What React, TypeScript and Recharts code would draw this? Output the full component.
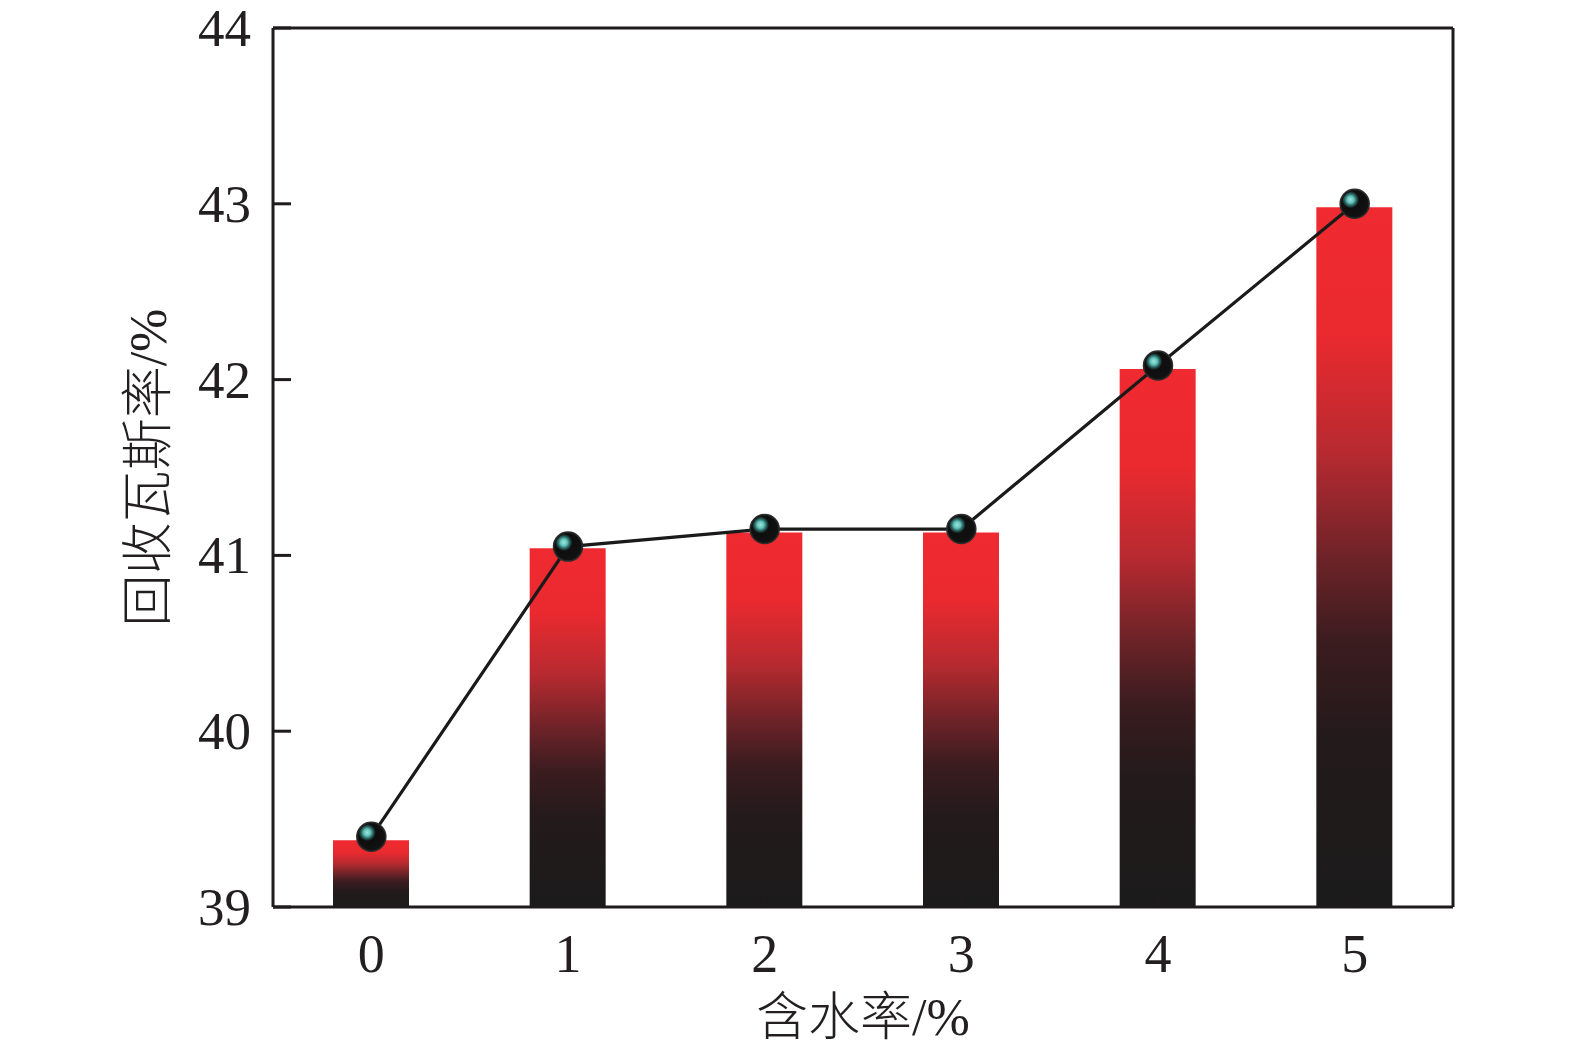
import { Bar, ComposedChart, Line, XAxis, YAxis } from "recharts";

const categories = ["0", "1", "2", "3", "4", "5"];
const barValues = [39.38, 41.04, 41.13, 41.13, 42.06, 42.98];
const lineValues = [39.4, 41.05, 41.15, 41.15, 42.08, 43.0];
const yTicks = [39, 40, 41, 42, 43, 44];

const xTitle = "含水率/%";
const yTitle = "回收瓦斯率/%";

const W = 1575;
const H = 1055;
const LEFT = 273;
const RIGHT = 122;
const TOP = 28;
const BOTTOM = 148;

const NUM_FONT = '"Liberation Serif", "Times New Roman", serif';
const TITLE_FONT = '"Liberation Serif", "Noto Sans CJK SC", serif';
const INK = "#1e1b1c";

const data = categories.map((c, i) => ({ cat: c, bar: barValues[i], rate: lineValues[i] }));

function XTick(props: any) {
  const { x, y, payload } = props;
  return (
    <g>
      <line x1={x} x2={x} y1={y - 13} y2={y} stroke={INK} strokeWidth={3} />
      <text x={x} y={y + 65} textAnchor="middle" fontFamily={NUM_FONT} fontSize={54} fill="#231f20">
        {payload.value}
      </text>
    </g>
  );
}

function YTick(props: any) {
  const { x, y, payload } = props;
  return (
    <g>
      <line x1={x} x2={x + 18} y1={y} y2={y} stroke={INK} strokeWidth={3} />
      <text x={x - 22} y={y + 18} textAnchor="end" fontFamily={NUM_FONT} fontSize={53} fill="#231f20">
        {payload.value}
      </text>
    </g>
  );
}

function Ball(props: any) {
  const { cx, cy, index } = props;
  if (cx == null || cy == null) return null;
  return (
    <g key={`ball-${index}`}>
      <circle cx={cx} cy={cy} r={14.5} fill="#141414" stroke="#2c2c2c" strokeWidth={1.5} />
      <circle cx={cx} cy={cy} r={13} fill="url(#ballGrad)" />
    </g>
  );
}

export default function App() {
  const plotW = W - LEFT - RIGHT;
  const plotH = H - TOP - BOTTOM;
  return (
    <div style={{ position: "absolute", left: 0, top: 0, width: W, height: H, background: "#fff" }}>
      <ComposedChart
        width={W}
        height={H}
        data={data}
        margin={{ top: TOP - 1, right: RIGHT - 1, bottom: 0, left: 0 }}
        barCategoryGap={0}
      >
        <defs>
          <linearGradient id="barGrad" x1="0" y1="0" x2="0" y2="1">
            <stop offset="0" stopColor="#ef2a30" />
            <stop offset="0.18" stopColor="#ea2a2f" />
            <stop offset="0.35" stopColor="#b72a30" />
            <stop offset="0.5" stopColor="#6e2328" />
            <stop offset="0.62" stopColor="#3b1c1f" />
            <stop offset="0.76" stopColor="#231a1b" />
            <stop offset="1" stopColor="#1b1b1b" />
          </linearGradient>
          <radialGradient id="ballGrad" cx="0.34" cy="0.34" r="0.66">
            <stop offset="0" stopColor="#9fe6dc" />
            <stop offset="0.2" stopColor="#5fc2b9" />
            <stop offset="0.34" stopColor="#2a6663" />
            <stop offset="0.5" stopColor="#0e0e0e" />
            <stop offset="1" stopColor="#111111" />
          </radialGradient>
        </defs>
        <XAxis
          dataKey="cat"
          tick={<XTick />}
          tickLine={false}
          tickSize={0}
          tickMargin={0}
          axisLine={{ stroke: INK, strokeWidth: 3 }}
          height={BOTTOM}
          interval={0}
        />
        <XAxis
          xAxisId="top"
          dataKey="cat"
          orientation="top"
          height={1}
          tick={false}
          tickLine={false}
          axisLine={{ stroke: INK, strokeWidth: 3 }}
        />
        <YAxis
          domain={[39, 44]}
          ticks={yTicks}
          allowDataOverflow
          tick={<YTick />}
          tickLine={false}
          tickSize={0}
          tickMargin={0}
          width={LEFT}
          axisLine={{ stroke: INK, strokeWidth: 3 }}
        />
        <YAxis
          yAxisId="right"
          orientation="right"
          domain={[39, 44]}
          width={1}
          tick={false}
          tickLine={false}
          axisLine={{ stroke: INK, strokeWidth: 3 }}
        />
        <Bar dataKey="bar" barSize={76} fill="url(#barGrad)" isAnimationActive={false} />
        <Line
          dataKey="rate"
          type="linear"
          stroke="#1a1a1a"
          strokeWidth={3.2}
          dot={<Ball />}
          activeDot={false}
          isAnimationActive={false}
        />
        <text
          x={148}
          y={TOP + plotH / 2}
          transform={`rotate(-90 148 ${TOP + plotH / 2})`}
          textAnchor="middle"
          dominantBaseline="central"
          fontFamily={TITLE_FONT}
          fontWeight={300}
          fontSize={52}
          fill="#231f20"
        >
          {yTitle}
        </text>
        <text
          x={LEFT + plotW / 2}
          y={1017}
          textAnchor="middle"
          dominantBaseline="central"
          fontFamily={TITLE_FONT}
          fontWeight={300}
          fontSize={52}
          fill="#231f20"
        >
          {xTitle}
        </text>
      </ComposedChart>
    </div>
  );
}
